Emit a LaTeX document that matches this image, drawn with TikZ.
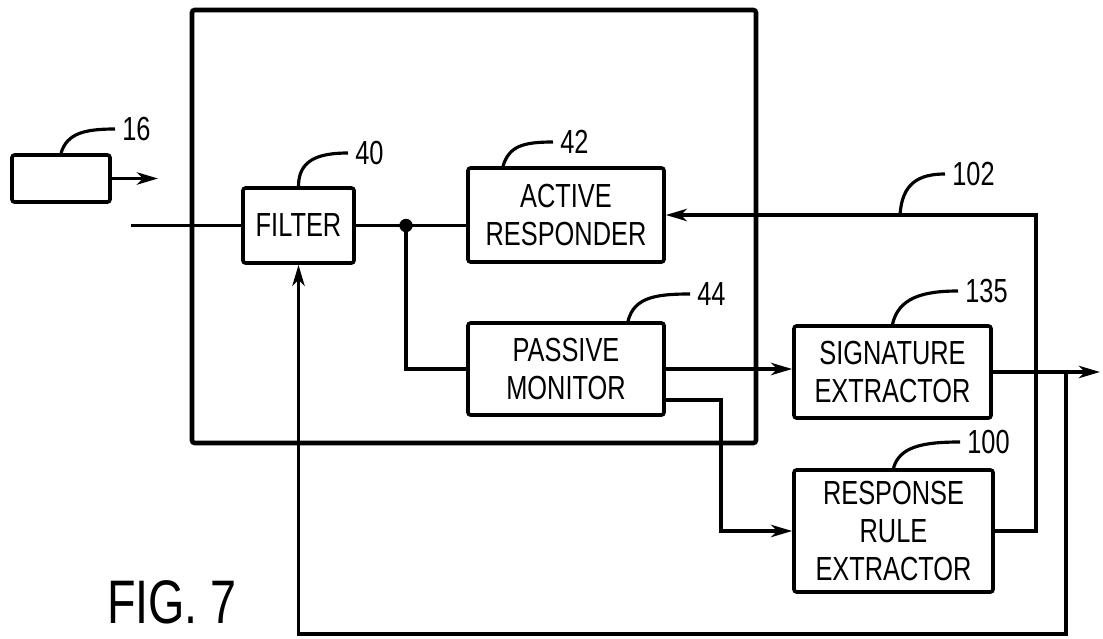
\documentclass[tikz,border=0pt]{standalone}
\usepackage{fontspec}
\setmainfont{Liberation Sans}[FakeStretch=0.76]
\usetikzlibrary{arrows.meta}

\tikzset{
  blk/.style={draw,line width=2.1pt,rounded corners=1.5pt,align=center,
    inner sep=0pt,font=\fontsize{19}{21.5}\selectfont},
  wire/.style={line width=2pt},
  lead/.style={line width=1.8pt},
  tag/.style={anchor=west,inner sep=4pt,font=\fontsize{19}{21.5}\selectfont},
}

\begin{document}
\begin{tikzpicture}[x=0.02cm,y=-0.02cm,>={Stealth[length=12pt,width=7pt,inset=3.5pt]}]
  \useasboundingbox (0,0) rectangle (1103,639);
  % unit holding filter, responder and monitor
  \draw[line width=2.6pt,rounded corners=1.5pt] (192,10) rectangle (756,443);

  \node[blk,minimum width=1.96cm,minimum height=0.94cm] (src) at (61,178.5) {};
  \node[blk,minimum width=2.22cm,minimum height=1.5cm] (filter) at (298.5,225.5) {FILTER};
  \node[blk,minimum width=3.92cm,minimum height=1.88cm] (active) at (566,215) {ACTIVE\\RESPONDER};
  \node[blk,minimum width=3.92cm,minimum height=1.84cm] (passive) at (566,369) {PASSIVE\\MONITOR};
  \node[blk,minimum width=3.94cm,minimum height=1.84cm] (sig) at (892.5,372) {SIGNATURE\\EXTRACTOR};
  \node[blk,minimum width=3.98cm,minimum height=2.44cm] (rule) at (893.5,531) {RESPONSE\\RULE\\EXTRACTOR};

  \coordinate (srcout) at (158,178.5);
  \coordinate (in) at (131,225.5);
  \coordinate (junc) at (406,225.5);
  \coordinate (tap) at (1066,372);
  \coordinate (bot) at (298.5,634);
  \coordinate (out) at (1100,372);
  \coordinate (fb) at (900,215);

  % signal paths
  \draw[wire,->] (src.east) -- (srcout);
  \draw[wire] (in) -- (filter.west);
  \draw[wire] (filter.east) -- (junc) -- (junc -| active.west);
  \fill (junc) circle (3.8pt);
  \draw[wire] (junc) |- (passive.west);
  \draw[wire,->] (passive.east) -- (passive.east -| sig.west);
  \draw[wire,->] ([yshift=-0.62cm]passive.east) -- ++(55,0) |- (rule.west);
  \draw[wire,->] (sig.east) -- (out);
  \draw[wire,->] (tap) |- (bot) -- (filter.south);
  \draw[wire,->] (rule.east) -- ++(41,0) |- (active.east);

  % reference numerals
  \node[tag] (n16) at (115,129) {16};
  \node[tag] (n40) at (348,153) {40};
  \node[tag] (n42) at (553,142) {42};
  \node[tag] (n44) at (690,294) {44};
  \node[tag] (n102) at (945,174) {102};
  \node[tag] (n135) at (958,291) {135};
  \node[tag] (n100) at (960,442) {100};
  \draw[lead] (src.north) .. controls +(6,-20) and +(-30,0) .. (n16.west);
  \draw[lead] (filter.north) .. controls +(0,-26) and +(-30,0) .. (n40.west);
  \draw[lead] ([xshift=-1.26cm]active.north) .. controls +(6,-20) and +(-30,0) .. (n42.west);
  \draw[lead] ([xshift=1.24cm]passive.north) .. controls +(6,-24) and +(-34,0) .. (n44.west);
  \draw[lead] (fb) .. controls +(2,-32) and +(-26,0) .. (n102.west);
  \draw[lead] (sig.north) .. controls +(6,-26) and +(-36,0) .. (n135.west);
  \draw[lead] (rule.north) .. controls +(6,-22) and +(-36,0) .. (n100.west);

  \node[inner sep=0pt,font=\fontsize{35}{40}\selectfont] (fig) at (172,602) {FIG. 7};
\end{tikzpicture}
\end{document}
